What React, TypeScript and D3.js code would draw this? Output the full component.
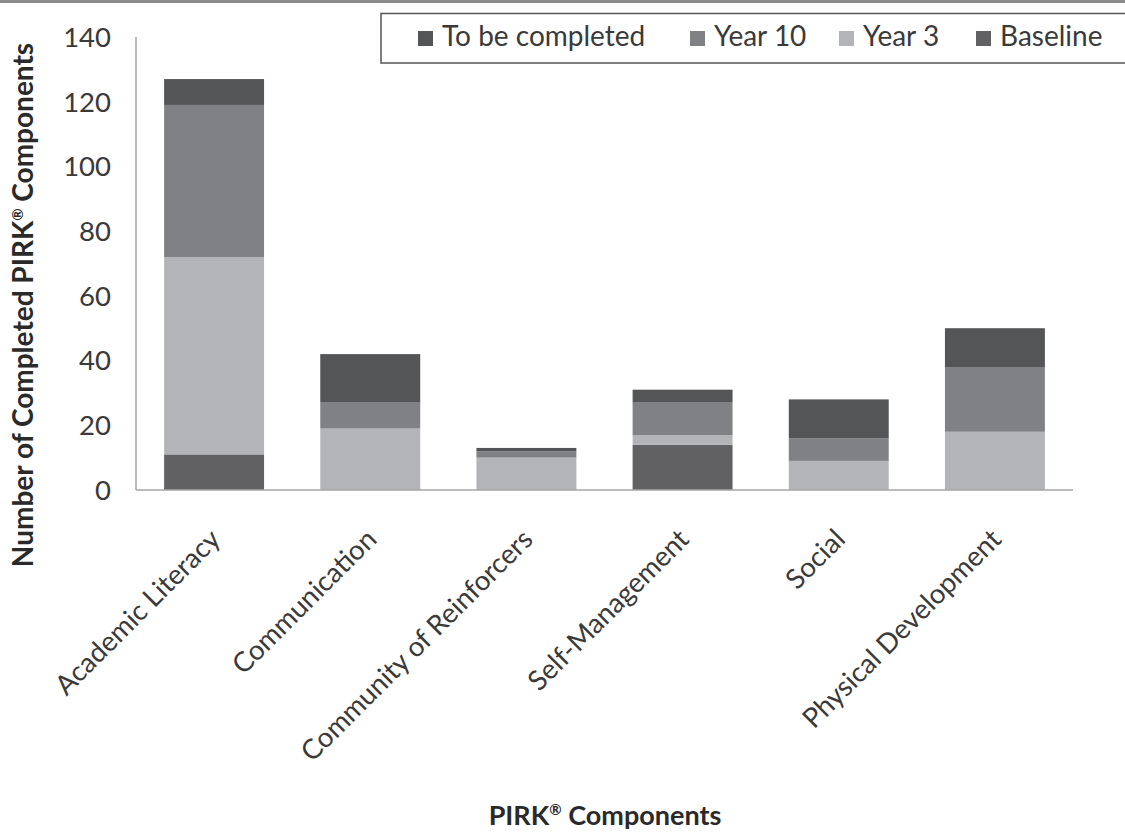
import React, { useEffect, useRef } from "react";
import * as d3 from "d3";

// PIRK component categories
const categories = [
  "Academic Literacy",
  "Communication",
  "Community of Reinforcers",
  "Self-Management",
  "Social",
  "Physical Development",
];

// Completed components per assessment point (stacked bottom → top)
const baseline = [11, 0, 0, 14, 0, 0];
const year3 = [61, 19, 10, 3, 9, 18];
const year10 = [47, 8, 2, 10, 7, 20];
const toBeCompleted = [8, 15, 1, 4, 12, 12];

const seriesKeys = ["Baseline", "Year 3", "Year 10", "To be completed"];
const legendOrder = ["To be completed", "Year 10", "Year 3", "Baseline"];
const yTicks = [0, 20, 40, 60, 80, 100, 120, 140];

const colors: Record<string, string> = {
  "To be completed": "#545557",
  "Year 10": "#808184",
  "Year 3": "#b3b4b7",
  Baseline: "#616163",
};

const W = 1125;
const H = 836;
const FONT = "Lato, 'Open Sans', sans-serif";

export default function App() {
  const ref = useRef<SVGSVGElement | null>(null);

  useEffect(() => {
    const svg = d3.select(ref.current);
    svg.selectAll("*").remove();

    const rows = categories.map((c, i) => ({
      category: c,
      Baseline: baseline[i],
      "Year 3": year3[i],
      "Year 10": year10[i],
      "To be completed": toBeCompleted[i],
    }));

    const x = d3
      .scaleBand<string>()
      .domain(categories)
      .range([136, 1073])
      .paddingInner(0.36)
      .paddingOuter(0.18);

    const y = d3.scaleLinear().domain([0, 140]).range([490, 37]);

    // top rule
    svg
      .append("rect")
      .attr("x", 0)
      .attr("y", 0)
      .attr("width", W)
      .attr("height", 3)
      .attr("fill", "#8a8a8a");

    const stack = d3.stack<any>().keys(seriesKeys);
    const layers = stack(rows as any);

    svg
      .append("g")
      .selectAll("g")
      .data(layers)
      .join("g")
      .attr("fill", (d) => colors[d.key])
      .selectAll("rect")
      .data((d) => d)
      .join("rect")
      .attr("x", (d: any) => x(d.data.category)!)
      .attr("width", x.bandwidth())
      .attr("y", (d) => y(d[1]))
      .attr("height", (d) => y(d[0]) - y(d[1]));

    // axes lines
    svg
      .append("line")
      .attr("x1", 136)
      .attr("x2", 136)
      .attr("y1", y(140))
      .attr("y2", y(0))
      .attr("stroke", "#a6a6a6")
      .attr("stroke-width", 1.5);
    svg
      .append("line")
      .attr("x1", 136)
      .attr("x2", 1073)
      .attr("y1", y(0))
      .attr("y2", y(0))
      .attr("stroke", "#a6a6a6")
      .attr("stroke-width", 1.5);

    // y tick labels
    svg
      .append("g")
      .selectAll("text")
      .data(yTicks)
      .join("text")
      .attr("x", 111)
      .attr("y", (d) => y(d))
      .attr("dy", "0.36em")
      .attr("text-anchor", "end")
      .attr("font-family", FONT)
      .attr("font-size", 27.5)
      .attr("fill", "#3a3a3a")
      .text((d) => d);

    // x category labels
    svg
      .append("g")
      .selectAll("text")
      .data(categories)
      .join("text")
      .attr(
        "transform",
        (d) => `translate(${x(d)! + x.bandwidth() / 2 + 8},${541}) rotate(-45)`
      )
      .attr("text-anchor", "end")
      .attr("font-family", FONT)
      .attr("font-size", 27.5)
      .attr("fill", "#3a3a3a")
      .text((d) => d);

    // y axis title
    const yt = svg
      .append("text")
      .attr("transform", "translate(33,305) rotate(-90)")
      .attr("text-anchor", "middle")
      .attr("font-family", FONT)
      .attr("font-size", 28)
      .attr("font-weight", "bold")
      .attr("fill", "#2a2a2a");
    yt.append("tspan").text("Number of Completed PIRK");
    yt.append("tspan").attr("font-size", 15).attr("dy", -10).text("®");
    yt.append("tspan").attr("dy", 10).text(" Components");

    // x axis title
    const xt = svg
      .append("text")
      .attr("x", 605)
      .attr("y", 825)
      .attr("text-anchor", "middle")
      .attr("font-family", FONT)
      .attr("font-size", 27)
      .attr("font-weight", "bold")
      .attr("fill", "#2a2a2a");
    xt.append("tspan").text("PIRK");
    xt.append("tspan").attr("font-size", 15).attr("dy", -10).text("®");
    xt.append("tspan").attr("dy", 10).text(" Components");

    // legend
    svg
      .append("rect")
      .attr("x", 381)
      .attr("y", 13.5)
      .attr("width", 760)
      .attr("height", 49.5)
      .attr("fill", "#fff")
      .attr("stroke", "#555")
      .attr("stroke-width", 1.5);

    const legendX = [418, 690, 839, 976];
    const lg = svg
      .append("g")
      .selectAll("g")
      .data(legendOrder)
      .join("g")
      .attr("transform", (_d, i) => `translate(${legendX[i]},0)`);
    lg.append("rect")
      .attr("x", 0)
      .attr("y", 31)
      .attr("width", 15)
      .attr("height", 15)
      .attr("fill", (d) => colors[d]);
    lg.append("text")
      .attr("x", 24)
      .attr("y", 46)
      .attr("font-family", FONT)
      .attr("font-size", 28)
      .attr("fill", "#3a3a3a")
      .text((d) => d);
  }, []);

  return (
    <svg
      ref={ref}
      width={W}
      height={H}
      style={{ position: "absolute", left: 0, top: 0, background: "#fff" }}
    />
  );
}
